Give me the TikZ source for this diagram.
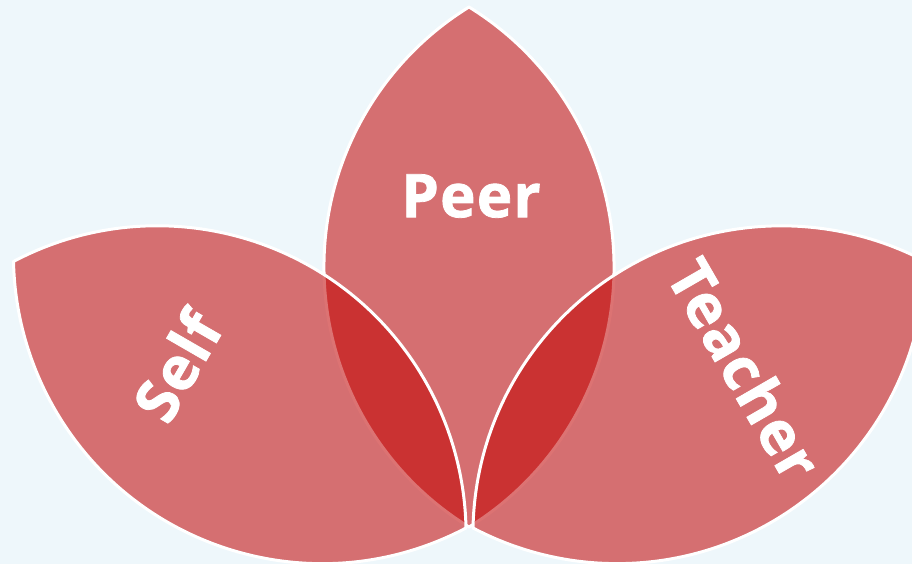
\documentclass[tikz,border=0pt]{standalone}
\usepackage{fontspec}
\setmainfont{Open Sans}
\newfontfamily\lblfont[FakeBold=1.3, LetterSpace=2]{Open Sans Bold}
\definecolor{bgcol}{RGB}{238,247,251}
\definecolor{petalred}{RGB}{193,0,0}
\begin{document}
\begin{tikzpicture}[x=1pt,y=1pt,
  petal/.style={fill=petalred, fill opacity=0.55, draw=white, line width=3pt, line join=round},
  petalshape/.style={insert path={(0,0) arc[start angle=238.3, end angle=121.7, radius=305.6] arc[start angle=58.3, end angle=-58.3, radius=305.6] -- cycle}},
  lbl/.style={text=white, font=\lblfont\fontsize{60}{62}\selectfont, inner sep=0pt}]
\useasboundingbox (0,0) rectangle (912,564);
\clip (0,0) rectangle (912,564);
\fill[bgcol] (0,0) rectangle (912,564);
\begin{scope}[shift={(469,37)}]
  \path[petal, petalshape];
\end{scope}
\begin{scope}[shift={(466,36)}, rotate=59.5, scale=1.01]
  \path[petal, petalshape];
\end{scope}
\begin{scope}[shift={(473,36)}, rotate=-59.5, scale=1.01]
  \path[petal, petalshape];
\end{scope}
\node[lbl] (peer) at (471,368) {Peer};
\node[lbl, rotate=60] (self) at (177,198) {Self};
\node[lbl, rotate=-60] (teacher) at (745,195) {Teacher};
\end{tikzpicture}
\end{document}
